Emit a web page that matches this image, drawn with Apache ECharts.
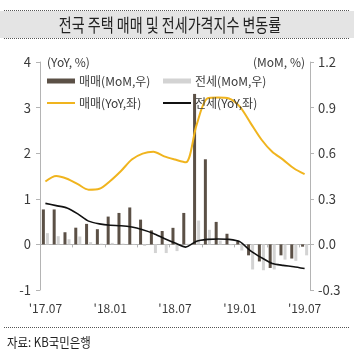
<!DOCTYPE html>
<html>
<head>
<meta charset="utf-8">
<script src="https://cdn.jsdelivr.net/npm/echarts@6/dist/echarts.min.js"></script>
<style>
html,body{margin:0;padding:0;background:#fff;}
#c{width:354px;height:350px;}
</style>
</head>
<body>
<div id="c"></div>
<script>
var months = ["'17.07","'17.08","'17.09","'17.10","'17.11","'17.12","'18.01","'18.02","'18.03","'18.04","'18.05","'18.06","'18.07","'18.08","'18.09","'18.10","'18.11","'18.12","'19.01","'19.02","'19.03","'19.04","'19.05","'19.06","'19.07"];
var saleMoM = [0.23, 0.23, 0.08, 0.11, 0.135, 0.10, 0.183, 0.207, 0.243, 0.163, 0.092, 0.088, 0.109, 0.207, 0.99, 0.56, 0.148, 0.07, 0.02, -0.072, -0.112, -0.155, -0.072, -0.093, -0.015];
var jeonseMoM = [0.074, 0.054, 0.034, 0.052, 0.015, 0.005, 0.01, 0.005, 0.003, -0.01, -0.057, -0.057, -0.044, 0.004, 0.157, 0.096, 0.025, -0.005, -0.04, -0.165, -0.17, -0.165, -0.10, -0.108, -0.072];
var saleYoY = [1.38, 1.50, 1.44, 1.32, 1.20, 1.22, 1.39, 1.61, 1.86, 1.99, 2.03, 1.93, 1.86, 1.80, 2.62, 3.20, 3.22, 3.20, 3.02, 2.66, 2.30, 2.03, 1.86, 1.67, 1.54];
var jeonseYoY = [0.90, 0.85, 0.80, 0.67, 0.51, 0.45, 0.42, 0.41, 0.38, 0.32, 0.24, 0.13, 0.03, -0.06, 0.07, 0.11, 0.12, 0.11, 0.06, -0.14, -0.29, -0.42, -0.46, -0.49, -0.53];
var seriesNames = ['매매(MoM,우)', '전세(MoM,우)', '매매(YoY,좌)', '전세(YoY,좌)'];
var titleText = '전국 주택 매매 및 전세가격지수 변동률';
var sourceText = '자료: KB국민은행';
var leftAxisName = '(YoY, %)';
var rightAxisName = '(MoM, %)';

var FONT = '"Noto Sans CJK KR", "Noto Sans", sans-serif';
var TXT = '#3a3a3a';
var AX = '#b4b4b4';

var chart = echarts.init(document.getElementById('c'), null, {renderer: 'canvas'});

function legendAt(name, left, top, h) {
  return {
    data: [name], left: left, top: top, padding: 0,
    icon: 'rect', itemWidth: 28, itemHeight: h, itemGap: 0,
    textStyle: {fontFamily: FONT, fontSize: 12, color: TXT, lineHeight: 14, padding: [0, 0, 0, -1]},
    selectedMode: false
  };
}

var option = {
  animation: false,
  backgroundColor: '#ffffff',
  textStyle: {fontFamily: FONT},
  grid: {left: 40, right: 44, top: 62, bottom: 60, containLabel: false},
  legend: [
    legendAt(seriesNames[0], 47, 74, 5),
    legendAt(seriesNames[1], 163, 74, 5),
    legendAt(seriesNames[2], 47, 96, 2),
    legendAt(seriesNames[3], 163, 96, 2)
  ],
  xAxis: [
    {
      type: 'category', data: months, boundaryGap: true, position: 'bottom',
      axisLine: {show: false, onZero: false},
      axisTick: {show: false},
      axisLabel: {interval: 5, fontSize: 12, color: TXT, margin: 12, fontFamily: FONT},
      splitLine: {show: false}
    },
    {
      type: 'category', data: months, boundaryGap: true, position: 'top',
      axisLine: {show: true, onZero: true, onZeroAxisIndex: 0, lineStyle: {color: AX, width: 1}},
      axisTick: {show: true, inside: true, interval: 2, length: 3, lineStyle: {color: AX}},
      axisLabel: {show: false},
      splitLine: {show: false}
    }
  ],
  yAxis: [
    {
      type: 'value', position: 'left', min: -1, max: 4, interval: 1,
      axisLine: {show: true, lineStyle: {color: AX}},
      axisTick: {show: true, length: 4, lineStyle: {color: AX}},
      axisLabel: {fontSize: 13, color: TXT, margin: 9, fontFamily: FONT},
      splitLine: {show: false}
    },
    {
      type: 'value', position: 'right', min: -0.3, max: 1.2, interval: 0.3,
      axisLine: {show: true, lineStyle: {color: AX}},
      axisTick: {show: true, length: 4, lineStyle: {color: AX}},
      axisLabel: {fontSize: 13, color: TXT, margin: 8, fontFamily: FONT,
        formatter: function (v) { return (Math.round(v * 10) / 10).toFixed(1); }},
      splitLine: {show: false}
    }
  ],
  series: [
    {name: seriesNames[0], type: 'bar', xAxisIndex: 0, yAxisIndex: 1, data: saleMoM,
      barWidth: 3, barGap: '35%', itemStyle: {color: '#5b5046'}, z: 2},
    {name: seriesNames[1], type: 'bar', xAxisIndex: 0, yAxisIndex: 1, data: jeonseMoM,
      barWidth: 3, itemStyle: {color: '#d3d3d3'}, z: 2},
    {name: seriesNames[2], type: 'line', xAxisIndex: 0, yAxisIndex: 0, data: saleYoY,
      symbol: 'none', smooth: 0.3, lineStyle: {color: '#f0b41e', width: 2}, itemStyle: {color: '#f0b41e'}, z: 3},
    {name: seriesNames[3], type: 'line', xAxisIndex: 0, yAxisIndex: 0, data: jeonseYoY,
      symbol: 'none', smooth: 0.2, lineStyle: {color: '#111111', width: 1.6}, itemStyle: {color: '#111111'}, z: 4}
  ],
  graphic: [
    {type: 'rect', left: 0, top: 11, shape: {width: 354, height: 27}, style: {fill: '#e4e4e4'}, z: 0, silent: true},
    {type: 'line', shape: {x1: 4, y1: 10.5, x2: 350, y2: 10.5}, style: {stroke: '#555', lineWidth: 1, lineDash: [1, 1]}, silent: true},
    {type: 'line', shape: {x1: 4, y1: 38.5, x2: 350, y2: 38.5}, style: {stroke: '#555', lineWidth: 1, lineDash: [1, 1]}, silent: true},
    {type: 'text', x: 170, y: 25, scaleX: 0.78, z: 10, silent: true,
      style: {text: titleText, font: '18px ' + FONT, fill: '#222', align: 'center', verticalAlign: 'middle'}},
    {type: 'text', x: 47, y: 62, z: 10, silent: true,
      style: {text: leftAxisName, font: '12px ' + FONT, fill: TXT, align: 'left', verticalAlign: 'middle'}},
    {type: 'text', x: 305, y: 62, z: 10, silent: true,
      style: {text: rightAxisName, font: '12px ' + FONT, fill: TXT, align: 'right', verticalAlign: 'middle'}},
    {type: 'line', shape: {x1: 4, y1: 327.5, x2: 350, y2: 327.5}, style: {stroke: '#555', lineWidth: 1, lineDash: [1, 1]}, silent: true},
    {type: 'text', x: 7, y: 342, scaleX: 0.88, z: 10, silent: true,
      style: {text: sourceText, font: '13px ' + FONT, fill: '#222', align: 'left', verticalAlign: 'middle'}}
  ]
};
chart.setOption(option);
</script>
</body>
</html>
